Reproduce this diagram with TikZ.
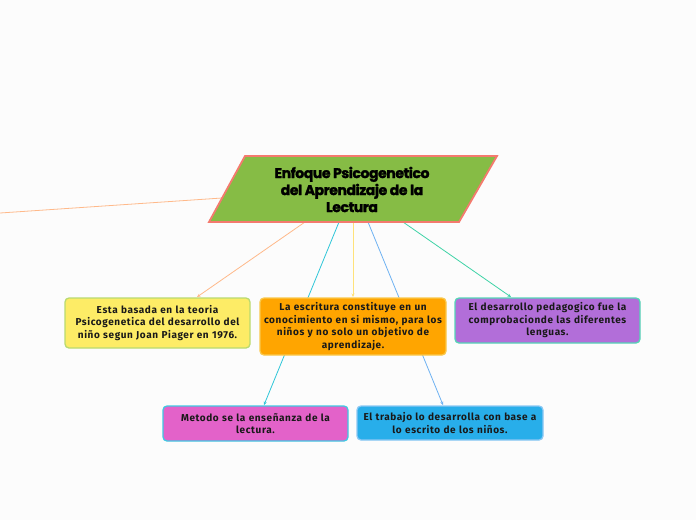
\documentclass[tikz,border=0pt]{standalone}
\usepackage{fontspec}
\setmainfont{Fira Sans}[LetterSpace=6]
\newfontfamily\titlefont[LetterSpace=-3,BoldFeatures={FakeBold=1.8}]{Poppins}
\usetikzlibrary{arrows.meta}
\definecolor{bgc}{HTML}{FCFCFC}
\definecolor{cgreen}{HTML}{86BC45}
\definecolor{csalmon}{HTML}{F47A6E}
\definecolor{lorange}{HTML}{FFB98A}
\definecolor{lcyan}{HTML}{2EC6D8}
\definecolor{lyellow}{HTML}{FFE27A}
\definecolor{lblue}{HTML}{6EB2F2}
\definecolor{lgreen}{HTML}{3ED3A6}
\definecolor{fyellow}{HTML}{FDEC66}
\definecolor{byellow}{HTML}{B9DA70}
\definecolor{forange}{HTML}{FFA500}
\definecolor{borange}{HTML}{F9C84C}
\definecolor{fpurple}{HTML}{B26ED9}
\definecolor{bpurple}{HTML}{55D6B6}
\definecolor{fpink}{HTML}{E362C9}
\definecolor{bpink}{HTML}{40C8E2}
\definecolor{fblue}{HTML}{28AEEA}
\definecolor{bblue}{HTML}{8CC8F4}
\tikzset{
  conn/.style={line width=0.8pt,-{Stealth[length=3.5pt,width=3pt]}},
  topicbox/.style={rounded corners=4pt,line width=1.3pt,align=center,inner sep=2pt,
    font=\bfseries\fontsize{10}{12.5}\selectfont,text=black!90},
}
\begin{document}
\begin{tikzpicture}[x=1pt,y=-1pt]
\useasboundingbox[fill=bgc] (0,0) rectangle (696,520);
% central parallelogram corners
\coordinate (ptl) at (245,156);
\coordinate (ptr) at (497,156);
\coordinate (pbr) at (459,222);
\coordinate (pbl) at (209,222);
% connector anchors on central shape
\coordinate (sL) at (222,198);
\coordinate (sA) at (305,222);
\coordinate (sB) at (339,222);
\coordinate (sC) at (353,222);
\coordinate (sD) at (368,222);
\coordinate (sE) at (403,222);
\coordinate (edgeL) at (0,213);
% box positions (nodes drawn later, over connectors)
\path (157.5,323) coordinate (yelc) (353,326.5) coordinate (orac) (547.5,320.5) coordinate (purc)
      (255.5,423.5) coordinate (pinc) (450,423) coordinate (bluc);
% connectors
\draw[line width=0.8pt,lorange] (sL) -- (edgeL);
\draw[conn,lorange] (sA) -- (197,297);
\draw[conn,lcyan] (sB) -- (264,405);
\draw[conn,lyellow] (sC) -- (353,297);
\draw[conn,lblue] (sD) -- (443,405);
\draw[conn,lgreen] (sE) -- (511,297);
% central shape
\draw[fill=cgreen,draw=csalmon,line width=1.8pt,line join=miter] (ptl) -- (ptr) -- (pbr) -- (pbl) -- cycle;
\node[align=center,font=\titlefont\bfseries\fontsize{14}{17}\selectfont,text=black] (title) at (352,189.5)
  {Enfoque Psicogenetico\\del Aprendizaje de la\\Lectura};
% boxes
\node[topicbox,draw=byellow,fill=fyellow,minimum width=185pt,minimum height=50pt,text width=180pt] (yel) at (yelc)
  {Esta basada en la teoria\\Psicogenetica del desarrollo del\\niño segun Joan Piager en 1976.};
\node[topicbox,draw=borange,fill=forange,minimum width=186pt,minimum height=57pt,text width=180pt] (ora) at (orac)
  {La escritura constituye en un\\conocimiento en si mismo, para los\\niños y no solo un objetivo de\\aprendizaje.};
\node[topicbox,draw=bpurple,fill=fpurple,minimum width=185pt,minimum height=45pt,text width=180pt] (pur) at (purc)
  {El desarrollo pedagogico fue la\\comprobacionde las diferentes\\lenguas.};
\node[topicbox,draw=bpink,fill=fpink,minimum width=185pt,minimum height=35pt,text width=180pt] (pin) at (pinc)
  {Metodo se la enseñanza de la\\lectura.};
\node[topicbox,draw=bblue,fill=fblue,minimum width=186pt,minimum height=34pt,text width=180pt] (blu) at (bluc)
  {El trabajo lo desarrolla con base a\\lo escrito de los niños.};
\end{tikzpicture}
\end{document}
